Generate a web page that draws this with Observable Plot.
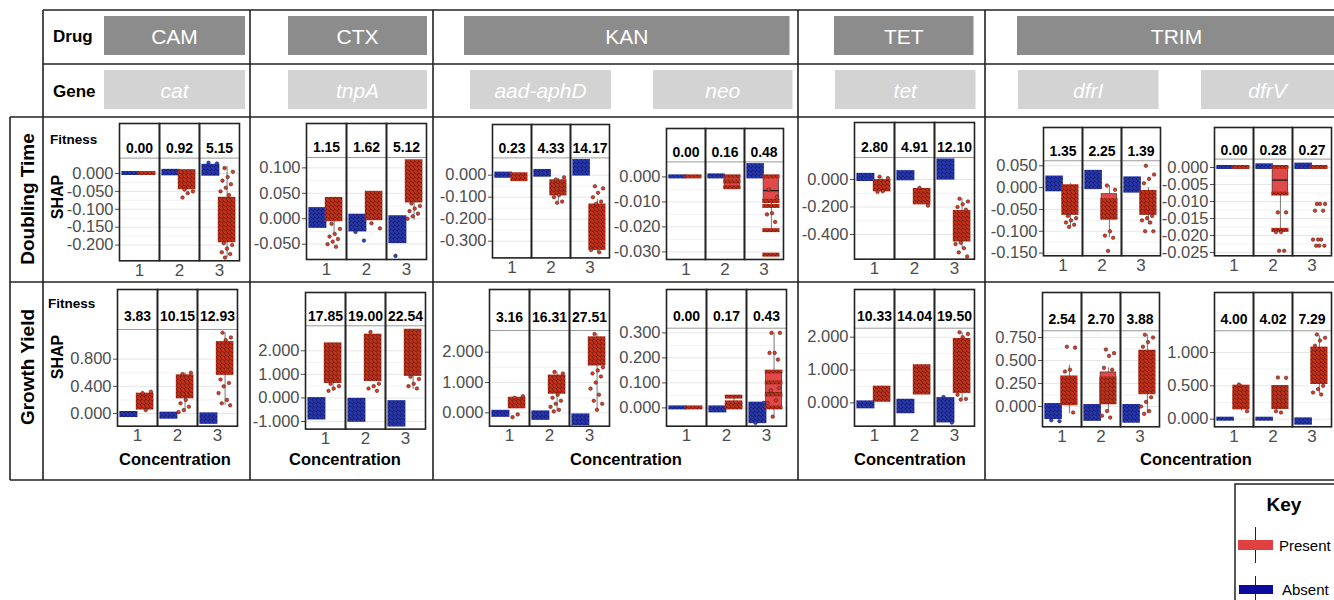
<!DOCTYPE html>
<html><head><meta charset="utf-8">
<script src="https://cdn.jsdelivr.net/npm/d3@7"></script>
<script src="https://cdn.jsdelivr.net/npm/@observablehq/plot@0.6"></script>
<style>
body{margin:0;background:#fff;}
#root{position:relative;width:1334px;height:600px;overflow:hidden;font-family:"Liberation Sans",Arial,sans-serif;background:#fff;}
#root .panel{position:absolute;}
</style></head><body><div id="root"></div>
<script>
// ---------------- DATA ----------------
const drugs = ["CAM","CTX","KAN","TET","TRIM"];
const genes = ["cat","tnpA","aad-aphD","neo","tet","dfrI","dfrV"];
const concentrations = [1,2,3];
const groups = ["Absent","Present"];

const fitnessDT = [[0.00,0.92,5.15],[1.15,1.62,5.12],[0.23,4.33,14.17],[0.00,0.16,0.48],[2.80,4.91,12.10],[1.35,2.25,1.39],[0.00,0.28,0.27]];
const fitnessGY = [[3.83,10.15,12.93],[17.85,19.00,22.54],[3.16,16.31,27.51],[0.00,0.17,0.43],[10.33,14.04,19.50],[2.54,2.70,3.88],[4.00,4.02,7.29]];

const yTicksDT = [[0,-0.05,-0.1,-0.15,-0.2],[0.1,0.05,0,-0.05],[0,-0.1,-0.2,-0.3],[0,-0.01,-0.02,-0.03],[0,-0.2,-0.4],[0.05,0,-0.05,-0.1,-0.15],[0,-0.005,-0.01,-0.015,-0.02,-0.025]];
const yTicksGY = [[0,0.4,0.8],[-1,0,1,2],[0,1,2],[0,0.1,0.2,0.3],[0,1,2],[0,0.25,0.5,0.75],[0,0.5,1]];
const yRangeDT = [[-0.2439,0.043],[-0.0801,0.1204],[-0.3759,0.0786],[-0.03304,0.006],[-0.5796,0.16],[-0.1562,0.0615],[-0.02597,0.00247]];
const yRangeGY = [[-0.187,1.237],[-1.322,3.061],[-0.438,2.715],[-0.0732,0.3188],[-0.709,2.274],[-0.2207,0.823],[-0.114,1.325]];

// dense point clouds: [gene, concentration, group, low, high]
const cloudsDT = [
 ["cat",1,"A",0,0],["cat",1,"P",0,0],["cat",2,"A",-0.001,0.006],["cat",2,"P",-0.04,0.005],["cat",3,"A",-0.002,0.02],["cat",3,"P",-0.188,-0.072],
 ["tnpA",1,"A",-0.015,0.018],["tnpA",1,"P",-0.002,0.038],["tnpA",2,"A",-0.022,0.005],["tnpA",2,"P",0.0,0.05],["tnpA",3,"A",-0.045,0.002],["tnpA",3,"P",0.035,0.112],
 ["aad-aphD",1,"A",-0.005,0.005],["aad-aphD",1,"P",-0.02,0.002],["aad-aphD",2,"A",0,0.017],["aad-aphD",2,"P",-0.085,-0.03],["aad-aphD",3,"A",0.005,0.062],["aad-aphD",3,"P",-0.333,-0.14],
 ["neo",1,"A",0,0],["neo",1,"P",0,0],["neo",2,"A",0,0.0004],["neo",2,"P",0,0],["neo",2,"P",-0.002,-0.002],["neo",2,"P",-0.0043,-0.0043],
 ["neo",3,"A",0,0.0045],["neo",3,"P",0,0],["neo",3,"P",-0.0098,-0.0098],["neo",3,"P",-0.0118,-0.0118],["neo",3,"P",-0.0215,-0.0215],["neo",3,"P",-0.0313,-0.0313],
 ["tet",1,"A",0,0.03],["tet",1,"P",-0.075,-0.015],["tet",2,"A",0.005,0.05],["tet",2,"P",-0.17,-0.08],["tet",3,"A",0.01,0.135],["tet",3,"P",-0.44,-0.24],
 ["dfrI",1,"A",-0.005,0.022],["dfrI",1,"P",-0.059,0.002],["dfrI",2,"A",0,0.035],["dfrI",2,"P",-0.07,-0.03],["dfrI",3,"A",-0.008,0.02],["dfrI",3,"P",-0.059,-0.011],
 ["dfrV",1,"A",0,0],["dfrV",1,"P",0,0],["dfrV",2,"A",0,0.0005],["dfrV",2,"P",0,0],["dfrV",2,"P",-0.0078,-0.0078],["dfrV",2,"P",-0.0185,-0.0185],
 ["dfrV",3,"A",0,0.0007],["dfrV",3,"P",0,0]
];
const cloudsGY = [
 ["cat",1,"A",-0.03,0.0],["cat",1,"P",0.08,0.27],["cat",2,"A",-0.055,-0.01],["cat",2,"P",0.245,0.54],["cat",3,"A",-0.13,-0.02],["cat",3,"P",0.59,1.03],
 ["tnpA",1,"A",-0.85,-0.07],["tnpA",1,"P",0.7,2.25],["tnpA",2,"A",-0.95,-0.1],["tnpA",2,"P",0.78,2.62],["tnpA",3,"A",-1.15,-0.2],["tnpA",3,"P",1.0,2.83],
 ["aad-aphD",1,"A",-0.08,0.02],["aad-aphD",1,"P",0.2,0.45],["aad-aphD",2,"A",-0.18,0.0],["aad-aphD",2,"P",0.68,1.18],["aad-aphD",3,"A",-0.35,-0.1],["aad-aphD",3,"P",1.61,2.44],
 ["neo",1,"A",0,0],["neo",1,"P",0,0],["neo",2,"A",-0.012,0],["neo",2,"P",0,0],["neo",2,"P",0.01,0.01],["neo",2,"P",0.02,0.02],["neo",2,"P",0.043,0.043],
 ["neo",3,"A",-0.055,0.015],["neo",3,"P",0,0],["neo",3,"P",0.052,0.052],["neo",3,"P",0.1,0.1],["neo",3,"P",0.143,0.143],
 ["tet",1,"A",-0.12,0.0],["tet",1,"P",0.08,0.45],["tet",2,"A",-0.27,0.05],["tet",2,"P",0.3,1.1],["tet",3,"A",-0.55,0.1],["tet",3,"P",0.35,1.9],
 ["dfrI",1,"A",-0.12,0.01],["dfrI",1,"P",0.03,0.31],["dfrI",2,"A",-0.14,0.0],["dfrI",2,"P",0.04,0.3],["dfrI",3,"A",-0.16,0.0],["dfrI",3,"P",0.15,0.59],
 ["dfrV",1,"A",0,0],["dfrV",1,"P",0.17,0.48],["dfrV",2,"A",0,0],["dfrV",2,"P",0.175,0.475],["dfrV",3,"A",-0.06,-0.01],["dfrV",3,"P",0.55,1.05]
];

// boxplots: [gene, concentration, group, whiskerLow, q1, median, q3, whiskerHigh]
const boxesDT = [
 ["cat",2,"P",-0.045,-0.03,-0.015,-0.002,0.005],["cat",3,"P",-0.235,-0.165,-0.12,-0.075,0.02],
 ["tnpA",1,"P",-0.03,0.005,0.02,0.03,0.038],["tnpA",3,"P",-0.003,0.045,0.07,0.1,0.112],
 ["aad-aphD",2,"P",-0.12,-0.075,-0.06,-0.045,-0.015],["aad-aphD",3,"P",-0.35,-0.27,-0.24,-0.2,-0.11],
 ["neo",2,"P",-0.0043,-0.0043,-0.002,0,0],["neo",3,"P",-0.0215,-0.0105,-0.0055,0,0],
 ["tet",1,"P",-0.09,-0.06,-0.04,-0.025,0.01],["tet",3,"P",-0.5,-0.4,-0.34,-0.26,-0.14],
 ["dfrI",1,"P",-0.09,-0.045,-0.025,-0.01,0.01],["dfrI",2,"P",-0.115,-0.07,-0.045,-0.015,0.005],["dfrI",3,"P",-0.085,-0.055,-0.03,-0.01,0.0],
 ["dfrV",2,"P",-0.0185,-0.0078,-0.0037,0,0]
];
const boxesGY = [
 ["cat",2,"P",0.02,0.27,0.35,0.45,0.6],["cat",3,"P",0.12,0.6,0.78,0.95,1.19],
 ["tnpA",1,"P",0.28,0.9,1.4,2.0,2.27],["tnpA",3,"P",0.36,1.3,1.9,2.5,2.83],
 ["aad-aphD",2,"P",0.05,0.75,0.95,1.1,1.35],["aad-aphD",3,"P",0.1,1.7,2.0,2.3,2.6],
 ["neo",2,"P",0,0,0.01,0.02,0.043],["neo",3,"P",-0.03,0,0.06,0.14,0.3],
 ["tet",3,"P",0.12,0.95,1.45,1.75,2.15],
 ["dfrI",1,"P",-0.08,0.03,0.11,0.31,0.45],["dfrI",2,"P",-0.05,0.05,0.18,0.37,0.42],["dfrI",3,"P",-0.08,0.24,0.43,0.55,0.78],
 ["dfrV",1,"P",0.12,0.22,0.3,0.4,0.52],["dfrV",3,"P",0.38,0.6,0.78,0.95,1.25]
];

// scattered individual points: [gene, concentration, group, values]
const straysDT = [
 ["cat",2,"P",[-0.045,-0.05,-0.055,-0.067]],["cat",3,"A",[0.03,0.028]],
 ["cat",3,"P",[0.015,0.005,-0.01,-0.02,-0.03,-0.04,-0.05,-0.06,-0.195,-0.2,-0.21,-0.22,-0.225,-0.235]],
 ["tnpA",1,"P",[-0.01,-0.02,-0.03,-0.035,-0.04,-0.045,-0.05,-0.055]],["tnpA",2,"A",[-0.026,-0.043]],["tnpA",2,"P",[-0.009,-0.019]],
 ["tnpA",3,"A",[-0.073]],["tnpA",3,"P",[0.03,0.025,0.02,0.015,0.01,0.005,0.0]],
 ["aad-aphD",2,"P",[-0.02,-0.01,-0.09,-0.1,-0.12,-0.125]],["aad-aphD",3,"P",[-0.05,-0.06,-0.08,-0.1,-0.12,-0.13,-0.34,-0.35]],
 ["neo",3,"P",[-0.005,-0.008,-0.0145,-0.015,-0.018]],
 ["tet",1,"P",[0.02,0.01,-0.085,-0.09]],["tet",2,"P",[-0.06,-0.19]],["tet",3,"P",[-0.14,-0.16,-0.18,-0.2,-0.22,-0.46,-0.47,-0.5,-0.53,-0.56]],
 ["dfrI",1,"P",[-0.065,-0.07,-0.075,-0.08,-0.085,-0.09]],["dfrI",2,"P",[0.005,-0.005,-0.1,-0.11,-0.115,-0.145]],
 ["dfrI",3,"P",[0.05,0.03,0.02,0.01,-0.065,-0.07,-0.075,-0.08,-0.1,-0.1]],
 ["dfrV",2,"P",[-0.0132,-0.0132,-0.019,-0.019,-0.0245,-0.0245]],
 ["dfrV",3,"P",[-0.0107,-0.0107,-0.0107,-0.0127,-0.0127,-0.0212,-0.0212,-0.0212,-0.023,-0.023,-0.023]]
];
const straysGY = [
 ["cat",1,"P",[0.3,0.32,0.05]],["cat",2,"P",[0.58,0.6,0.2,0.15,0.1,0.05,0.02]],["cat",3,"P",[1.19,1.12,1.08,0.5,0.45,0.4,0.3,0.2,0.15,0.12]],
 ["tnpA",1,"P",[0.6,0.5,0.4,0.3]],["tnpA",2,"P",[2.8,0.6,0.5,0.4,0.3]],["tnpA",3,"P",[0.9,0.8,0.6,0.5,0.4]],
 ["aad-aphD",1,"P",[0.5,0.55,-0.05,-0.14]],["aad-aphD",2,"P",[1.35,1.3,0.6,0.5,0.4,0.3,0.2,0.1,0.05]],
 ["aad-aphD",3,"P",[2.6,1.5,1.4,1.3,1.2,1.0,0.8,0.6,0.4,0.3,0.1]],
 ["neo",3,"A",[-0.06,0.02]],["neo",3,"P",[0.3,0.3,0.22,0.22,0.193,-0.035,0.02,0.03,0.07,0.08]],
 ["tet",3,"A",[0.18,-0.6]],["tet",3,"P",[2.15,2.1,2.0,0.25,0.12,0.1]],
 ["dfrI",1,"A",[-0.15,-0.16]],["dfrI",1,"P",[0.65,0.64,0.4,0.38,-0.065]],["dfrI",2,"P",[0.62,0.58,0.55,0.42,0.4,-0.05,-0.1,-0.12]],
 ["dfrI",3,"P",[0.78,0.75,0.7,0.65,0.1,0.05,0.0,-0.05,-0.08]],
 ["dfrV",1,"P",[0.52,0.12]],["dfrV",2,"P",[0.625,0.62,0.1,0.12]],["dfrV",3,"P",[1.27,1.22,1.18,1.1,0.5,0.45,0.4,0.37]]
];

// ---------------- LAYOUT (pixels) ----------------
// panel frame: [left, right, stripTop, stripBottom, bottom]
const layoutDT = [[118.3,240.7,122.7,157.3,260],[305,427.3,123.3,157.3,259.3],[491.3,609.7,124.3,157.7,257.7],[665.3,783.7,128.3,161.7,259.3],
  [852.7,975.4,122.3,157.3,259],[1041.7,1160.3,126.7,160,255],[1213,1331,126.7,158.3,255]];
const layoutGY = [[116.7,237.3,289.3,329.3,426],[304,425,291.7,325,428.3],[488,609.7,289.3,330.3,426],[664.7,785.7,289.3,328,426],
  [852.7,975.4,289.3,328,426],[1040.7,1160.3,292,330.3,426.3],[1212.5,1331,292,330.3,426.3]];
const drugBoxX = [[104,245],[288,427],[464,789.5],[834,973.5],[1017,1336]];
const geneBoxX = [[104,245],[288,427],[470,611],[653,792.5],[835,975.5],[1018,1158.5],[1201,1334]];
const concLabelX = [175,345,626,910,1196];

const FONT = '"Liberation Sans", Arial, sans-serif';
const RED = "#e4381f", BLUE = "#2d42cc", BOXRED = "#e04a4a";
const root = d3.select("#root");

// patterns to mimic dense jittered points
const defs = root.append("svg").attr("width",0).attr("height",0).style("position","absolute").append("defs");
function mkPattern(id, bg, fg, st){
  const p = defs.append("pattern").attr("id",id).attr("patternUnits","userSpaceOnUse").attr("width",4).attr("height",4);
  p.append("rect").attr("width",4).attr("height",4).attr("fill",bg);
  [[1,1],[3,3]].forEach(([cx,cy]) => p.append("circle").attr("cx",cx).attr("cy",cy).attr("r",1.45)
     .attr("fill",fg).attr("stroke",st).attr("stroke-width",0.5));
}
mkPattern("redDots","#c23220",RED,"#2a0600");
mkPattern("blueDots","#2634b0",BLUE,"#05052a");

// ---------------- OVERLAY (grid, headers, labels, key) ----------------
const ov = root.append("svg").attr("width",1334).attr("height",600)
  .style("position","absolute").style("left","0px").style("top","0px").style("font-family",FONT);
const lineColor = "#222";
function hline(y,x1,x2){ ov.append("line").attr("x1",x1).attr("x2",x2).attr("y1",y).attr("y2",y).attr("stroke",lineColor).attr("stroke-width",1.6); }
function vline(x,y1,y2){ ov.append("line").attr("x1",x).attr("x2",x).attr("y1",y1).attr("y2",y2).attr("stroke",lineColor).attr("stroke-width",1.6); }
hline(10,43,1334); hline(64,43,1334); hline(117,10,1334); hline(282,10,1334); hline(480,10,1334);
vline(10,117,480); vline(43,10,480); [250,433,798,985].forEach(x=>vline(x,10,480));

drugs.forEach((d,i)=>{
  const [a,b] = drugBoxX[i];
  ov.append("rect").attr("x",a).attr("y",16).attr("width",b-a).attr("height",39).attr("fill","#8c8c8c");
  ov.append("text").attr("x",(a+b)/2).attr("y",36).attr("text-anchor","middle").attr("dominant-baseline","central")
    .attr("fill","#fff").attr("font-size",21).text(d);
});
genes.forEach((g,i)=>{
  const [a,b] = geneBoxX[i];
  ov.append("rect").attr("x",a).attr("y",70).attr("width",b-a).attr("height",39).attr("fill","#d3d3d3");
  ov.append("text").attr("x",(a+b)/2).attr("y",90).attr("text-anchor","middle").attr("dominant-baseline","central")
    .attr("fill","#fff").attr("font-size",21).attr("font-style","italic").text(g);
});
function txt(x,y,s,size,opts={}){
  const t = ov.append("text").attr("x",x).attr("y",y).attr("dominant-baseline","central")
    .attr("text-anchor",opts.anchor||"start").attr("font-size",size).attr("font-weight",opts.weight||"bold").attr("fill",opts.fill||"#000").text(s);
  if (opts.rotate) t.attr("transform",`rotate(-90 ${x} ${y})`);
  return t;
}
txt(53,36,"Drug",17); txt(53,91,"Gene",17);
txt(50,139.5,"Fitness",13.5); txt(48,303,"Fitness",13.5);
txt(57,197,"SHAP",16,{anchor:"middle",rotate:true}); txt(57,357,"SHAP",16,{anchor:"middle",rotate:true});
txt(27,199,"Doubling Time",19,{anchor:"middle",rotate:true}); txt(27,367,"Growth Yield",19,{anchor:"middle",rotate:true});
concLabelX.forEach(x=>txt(x,459,"Concentration",16.5,{anchor:"middle"}));

// key
ov.append("rect").attr("x",1235).attr("y",484).attr("width",120).attr("height",140).attr("fill","#fff").attr("stroke",lineColor).attr("stroke-width",1.5);
txt(1284,504,"Key",19,{anchor:"middle"});
ov.append("line").attr("x1",1255.5).attr("x2",1255.5).attr("y1",527).attr("y2",563).attr("stroke","#222");
ov.append("rect").attr("x",1238).attr("y",540).attr("width",35).attr("height",10).attr("fill","#e04040");
txt(1279,545,"Present",15,{weight:"normal"});
ov.append("line").attr("x1",1255.5).attr("x2",1255.5).attr("y1",576).attr("y2",600).attr("stroke","#222");
ov.append("rect").attr("x",1239).attr("y",585).attr("width",34).attr("height",9).attr("fill","#0a0a9c");
txt(1282,589,"Absent",15,{weight:"normal"});

// ---------------- PANELS ----------------
const CENTER = {A:0.29, P:0.69}, HW = 0.2;
const jit = i => (((i*0.618034 + 0.31) % 1) * 2 - 1);

function panel(row, gi){
  const gene = genes[gi];
  const [fl,fr,st,sl,fb] = (row==="DT"?layoutDT:layoutGY)[gi];
  const [yLo,yHi] = (row==="DT"?yRangeDT:yRangeGY)[gi];
  const ticks = (row==="DT"?yTicksDT:yTicksGY)[gi];
  const fit = (row==="DT"?fitnessDT:fitnessGY)[gi].map((v,i)=>({conc:concentrations[i], label:v.toFixed(2)}));
  const clouds = (row==="DT"?cloudsDT:cloudsGY).filter(d=>d[0]===gene).map(([g,c,k,lo,hi])=>({conc:c,grp:k,lo,hi}));
  const boxes = (row==="DT"?boxesDT:boxesGY).filter(d=>d[0]===gene).map(([g,c,k,wlo,q1,med,q3,whi])=>({conc:c,grp:k,wlo,q1,med,q3,whi}));
  const strays = [];
  (row==="DT"?straysDT:straysGY).filter(d=>d[0]===gene).forEach(([g,c,k,vals])=>vals.forEach((v,i)=>strays.push({conc:c,grp:k,v,i})));
  const sorted = ticks.slice().sort((a,b)=>a-b);
  const minor = sorted.slice(1).map((t,i)=>(t+sorted[i])/2);

  const ML=74, MR=3, MT=(sl-st)+3, MB=26;
  const W = fr-fl+ML+MR, H = MT+(fb-sl)+MB;
  const stripH = sl-st;
  const svg = Plot.plot({
    width:W, height:H, marginLeft:ML, marginRight:MR, marginTop:MT, marginBottom:MB,
    style:{background:"transparent", fontFamily:FONT, fontSize:"16px", color:"#4d4d4d", overflow:"visible"},
    fx:{domain:concentrations, padding:0, label:null},
    x:{domain:[0,1]},
    y:{domain:[yLo,yHi], label:null},
    color:{domain:["A","P"], range:[BLUE,RED]},
    marks:[
      Plot.ruleY(minor,{stroke:"#f2f2f2", strokeWidth:1}),
      Plot.ruleY(ticks,{stroke:"#e6e6e6", strokeWidth:1}),
      Plot.axisY(ticks,{tickFormat:d=>d.toFixed(3), fontSize:16.5, tickSize:4, tickPadding:2, label:null, fill:"#4d4d4d", stroke:"#4d4d4d"}),
      Plot.axisFx({anchor:"bottom", fontSize:17, tickSize:0, tickPadding:3, label:null, fill:"#4d4d4d"}),
      Plot.axisX({ticks:[], label:null, tickSize:0}),
      Plot.ruleX(boxes,{fx:"conc", x:d=>CENTER[d.grp], y1:"wlo", y2:"whi", stroke:"#777", strokeWidth:1}),
      Plot.rect(boxes,{fx:"conc", x1:d=>CENTER[d.grp]-HW, x2:d=>CENTER[d.grp]+HW, y1:"q1", y2:"q3",
        fill:BOXRED, stroke:"#333", strokeWidth:0.7}),
      Plot.ruleY(boxes,{fx:"conc", x1:d=>CENTER[d.grp]-HW, x2:d=>CENTER[d.grp]+HW, y:"med", stroke:"#222", strokeWidth:1.4}),
      Plot.rect(clouds.filter(d=>d.grp==="A"),{fx:"conc", x1:d=>CENTER.A-HW-0.03, x2:d=>CENTER.A+HW+0.02, y1:"lo", y2:"hi",
        fill:"url(#blueDots)", insetTop:-2, insetBottom:-2}),
      Plot.rect(clouds.filter(d=>d.grp==="P"),{fx:"conc", x1:d=>CENTER.P-HW-0.02, x2:d=>CENTER.P+HW+0.02, y1:"lo", y2:"hi",
        fill:"url(#redDots)", insetTop:-2, insetBottom:-2}),
      Plot.dot(strays,{fx:"conc", x:d=>CENTER[d.grp]+0.85*HW*jit(d.i), y:"v", r:1.8,
        fill:"grp", stroke:"#222", strokeWidth:0.5}),
      Plot.ruleY([yHi],{stroke:"#999", strokeWidth:1}),
      Plot.text(fit,{fx:"conc", text:"label", frameAnchor:"top", dy:-stripH/2+2, fontSize:14, fontWeight:"bold", fill:"#000"}),
      Plot.frame({stroke:"#222", strokeWidth:1.6, insetTop:-stripH, clip:false})
    ]
  });
  svg.classList.add("panel");
  svg.style.left = (fl-ML)+"px";
  svg.style.top = (st-3)+"px";
  root.node().appendChild(svg);
}
genes.forEach((g,i)=>{ panel("DT",i); panel("GY",i); });
</script></body></html>
